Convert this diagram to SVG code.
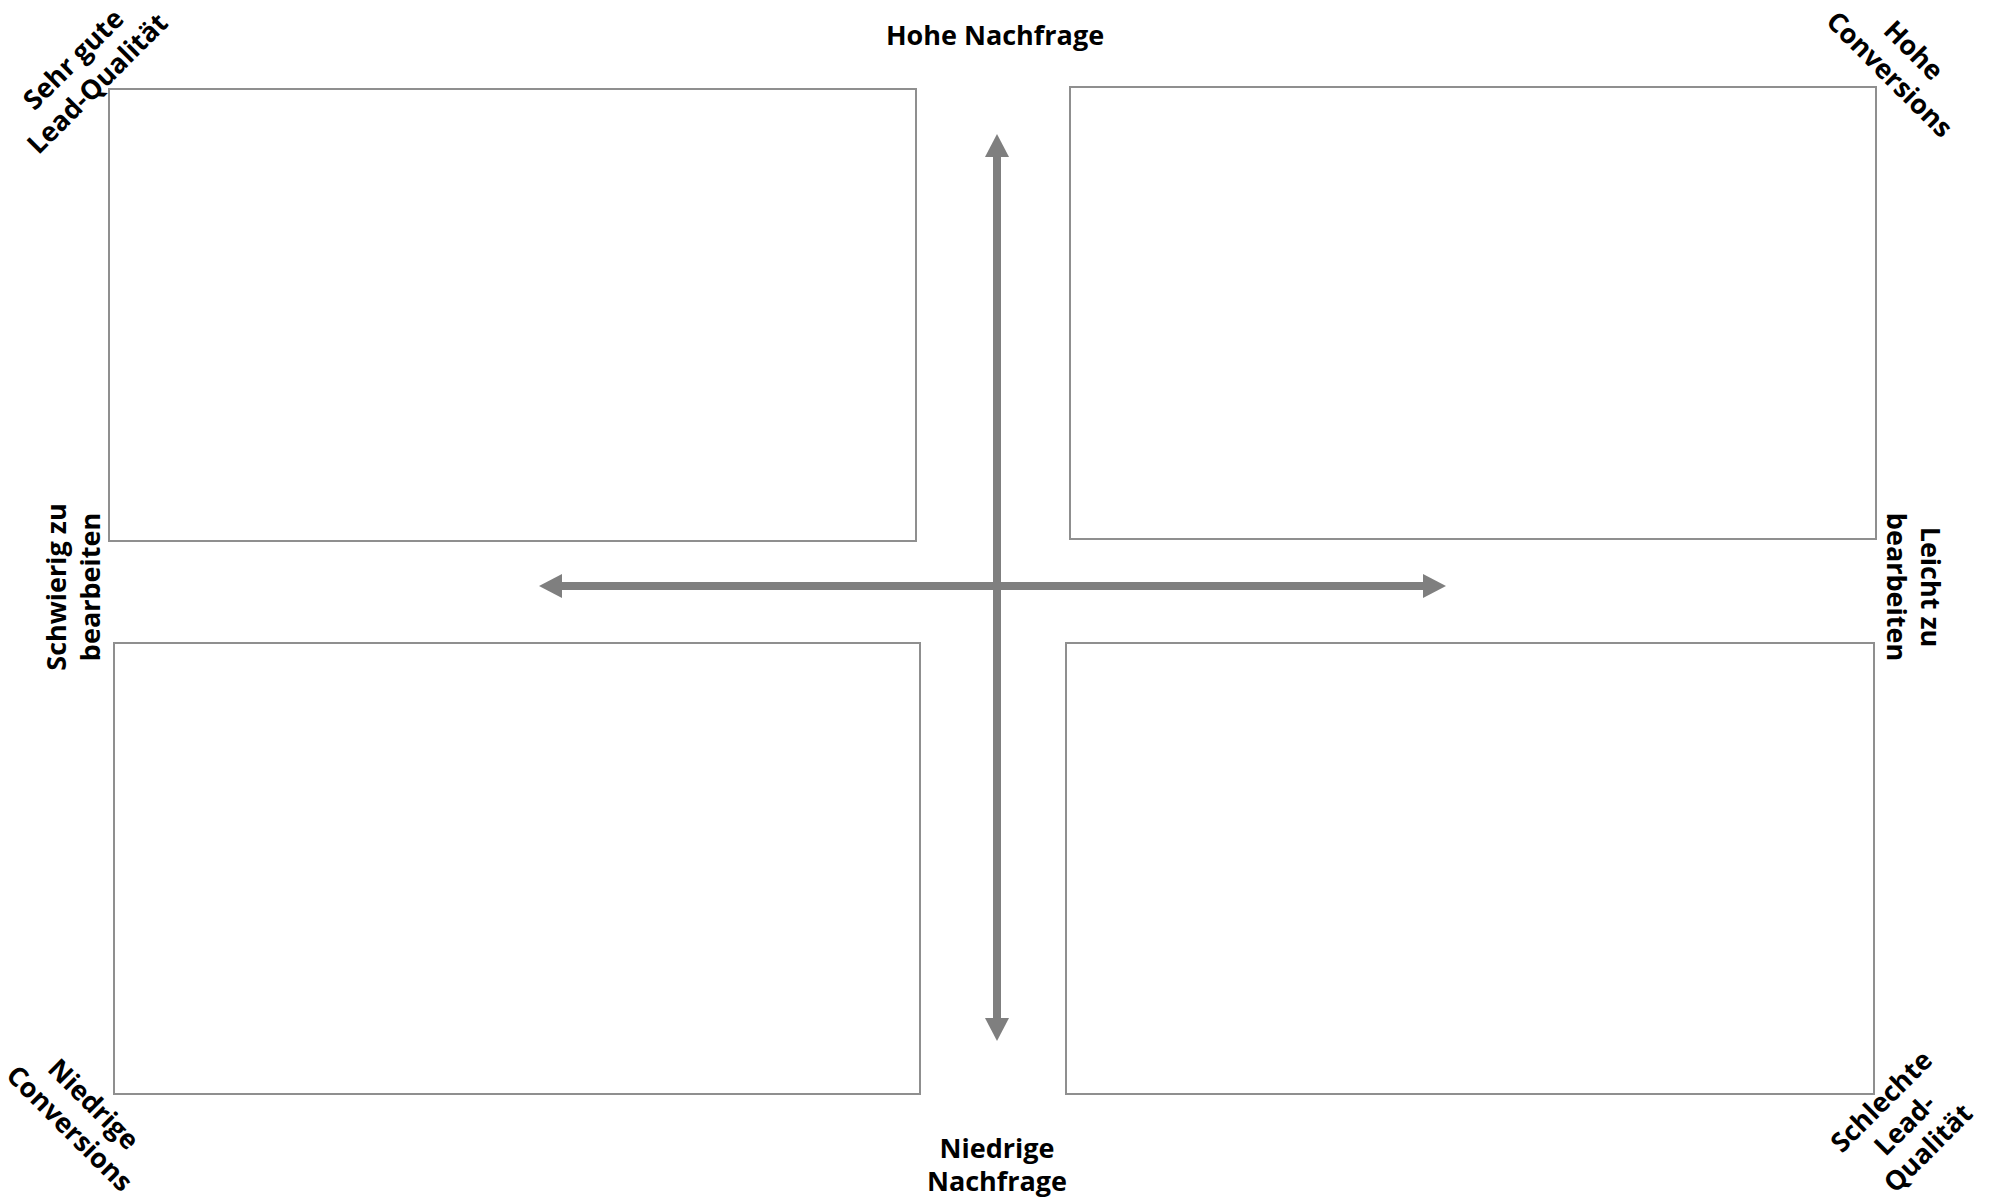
<svg xmlns="http://www.w3.org/2000/svg" width="1992" height="1199" viewBox="0 0 1992 1199">
<style>
.box{fill:#ffffff;stroke:#8f8f8f;stroke-width:2}
.lbl{font-family:"Open Sans","Noto Sans","Liberation Sans",sans-serif;font-weight:700;font-size:27px;fill:#000000;text-anchor:middle}
.axis{stroke:#7f7f7f;stroke-width:8;fill:none;marker-start:url(#head);marker-end:url(#head)}
</style>
<defs>
<marker id="head" markerUnits="userSpaceOnUse" markerWidth="23" markerHeight="24" viewBox="0 0 23 24" refX="0" refY="12" orient="auto-start-reverse">
<path d="M0,0 L23,12 L0,24 z" fill="#7f7f7f"/>
</marker>
</defs>
<rect width="1992" height="1199" fill="#ffffff"/>
<g id="quadrant-top-left"><rect class="box" x="109" y="89" width="807" height="452"/></g>
<g id="quadrant-top-right"><rect class="box" x="1070" y="87" width="806" height="452"/></g>
<g id="quadrant-bottom-left"><rect class="box" x="114" y="643" width="806" height="451"/></g>
<g id="quadrant-bottom-right"><rect class="box" x="1066" y="643" width="808" height="451"/></g>
<g id="connectors">
<path class="axis" d="M997,1018 L997,157"/>
<path class="axis" d="M562,586 L1423,586"/>
</g>
<g id="label-top"><text class="lbl" x="995" y="45">Hohe Nachfrage</text></g>
<g id="label-bottom"><text class="lbl"><tspan x="997" y="1158">Niedrige</tspan><tspan x="997" y="1191">Nachfrage</tspan></text></g>
<g id="label-left"><text class="lbl" transform="translate(66,587) rotate(-90)"><tspan x="0" y="0">Schwierig zu</tspan><tspan x="0" y="34">bearbeiten</tspan></text></g>
<g id="label-right"><text class="lbl" transform="translate(1921,587) rotate(90)"><tspan x="0" y="0">Leicht zu</tspan><tspan x="0" y="34">bearbeiten</tspan></text></g>
<g id="label-top-left"><text class="lbl" transform="translate(80,66) rotate(-45)"><tspan x="0" y="0">Sehr gute</tspan><tspan x="0" y="34">Lead-Qualität</tspan></text></g>
<g id="label-top-right"><text class="lbl" transform="translate(1907,57) rotate(45)"><tspan x="0" y="0">Hohe</tspan><tspan x="0" y="34">Conversions</tspan></text></g>
<g id="label-bottom-left"><text class="lbl" transform="translate(87,1111) rotate(45)"><tspan x="0" y="0">Niedrige</tspan><tspan x="0" y="34">Conversions</tspan></text></g>
<g id="label-bottom-right"><text class="lbl" transform="translate(1888,1108) rotate(-45)"><tspan x="0" y="0">Schlechte</tspan><tspan x="0" y="33">Lead-</tspan><tspan x="0" y="66">Qualität</tspan></text></g>
</svg>
